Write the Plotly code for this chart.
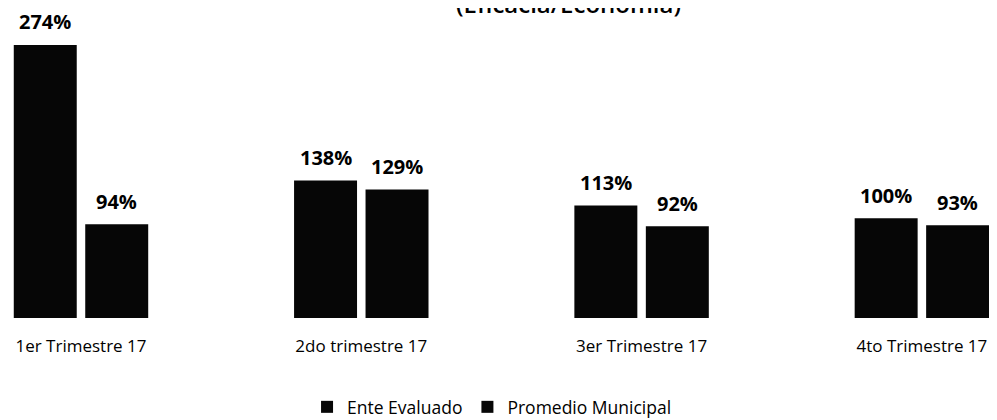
import plotly.graph_objects as go

categories = ["1er Trimestre 17", "2do trimestre 17", "3er Trimestre 17", "4to Trimestre 17"]
ente_evaluado = [274, 138, 113, 100]
promedio_municipal = [94, 129, 92, 93]
series_names = ["Ente Evaluado", "Promedio Municipal"]
title_text = "(Eficacia/Economía)"

FONT = "'Open Sans', Lato, sans-serif"
BAR = "#060606"

fig = go.Figure()
for name, vals in zip(series_names, [ente_evaluado, promedio_municipal]):
    fig.add_trace(go.Bar(
        x=categories, y=vals, name=name,
        marker=dict(color=BAR, line=dict(width=0)),
        hoverinfo="x+y",
    ))

annotations = []
for shift, vals in zip([-35.75, 35.75], [ente_evaluado, promedio_municipal]):
    for c, v in zip(categories, vals):
        annotations.append(dict(
            x=c, y=v, xref="x", yref="y", text=f"{v}%", showarrow=False,
            xshift=shift, yshift=23, yanchor="middle", xanchor="center",
            font=dict(family=FONT, size=20, color="#000000", weight="bold"),
        ))

annotations.append(dict(
    x=560 / 997, y=(310 - 14) / 278, xref="paper", yref="paper",
    text=title_text, showarrow=False, xanchor="center", yanchor="bottom",
    font=dict(family=FONT, size=24, color="#000000", weight=600),
))

fig.update_layout(
    width=997, height=420,
    margin=dict(l=0, r=0, t=32, b=110),
    paper_bgcolor="white", plot_bgcolor="white",
    barmode="group", bargap=0.49, bargroupgap=0.119,
    showlegend=True,
    legend=dict(orientation="h", x=0.4855, xanchor="center", y=-0.32, yanchor="middle",
                font=dict(family=FONT, size=17.5, color="#000000"),
                traceorder="normal"),
    xaxis=dict(range=[-0.2604, 3.2965], showline=False, showgrid=False, zeroline=False,
               tickfont=dict(family=FONT, size=17, color="#000000"),
               ticks="", ticklabelstandoff=16),
    yaxis=dict(range=[0, 279], visible=False),
    annotations=annotations,
    font=dict(family=FONT),
)

fig.write_html("out.html")
